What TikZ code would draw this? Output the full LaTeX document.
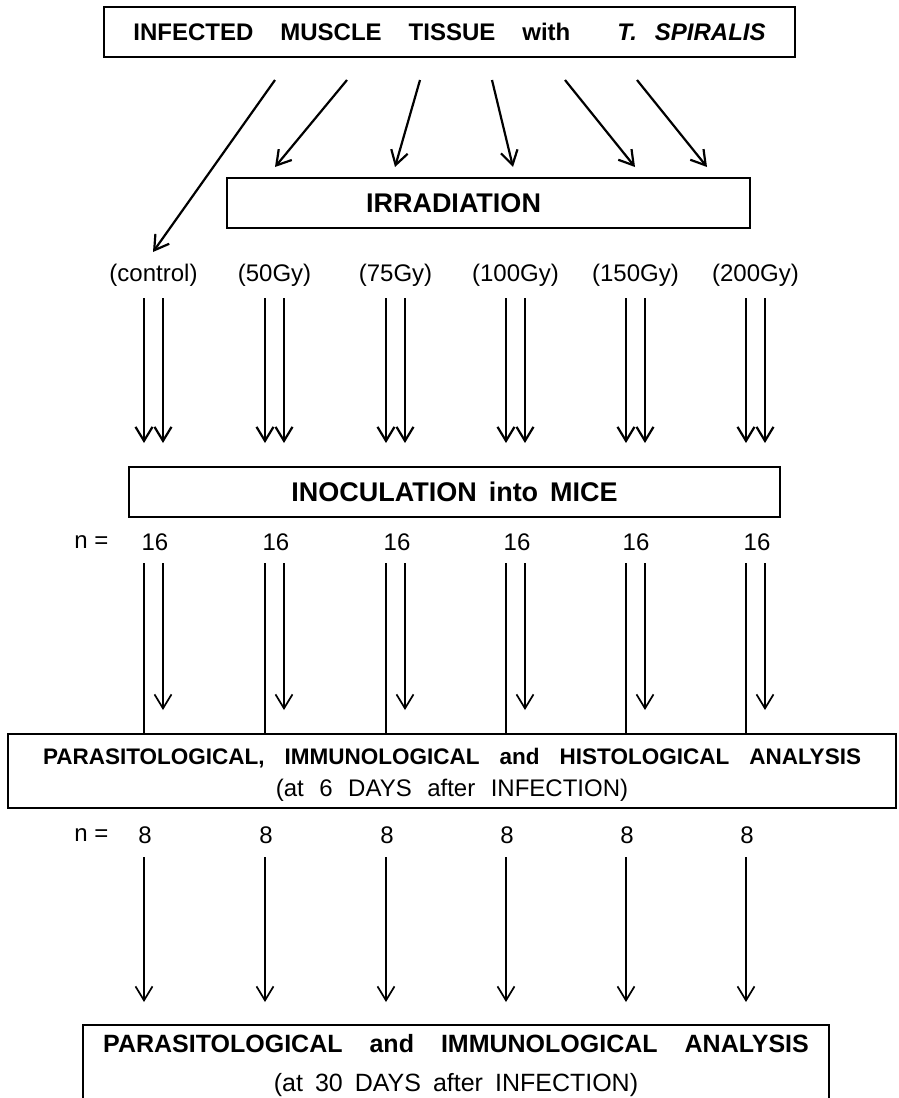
\documentclass[tikz,border=0pt]{standalone}
\usepackage{fontspec}
\setmainfont{Liberation Sans}
\usetikzlibrary{arrows.meta}
\newcommand\wordgap[1]{\spaceskip=#1\relax}
\begin{document}
\begin{tikzpicture}[x=1pt,y=-1pt,
  boxline/.style={draw, line width=1.7pt, inner sep=0pt, align=center},
  lab/.style={inner sep=0pt},
  labfont/.style={font={\fontsize{24}{28}\selectfont}},
  arr/.style={line width=2.2pt, -{Straight Barb[length=14pt,width=17pt]}},
  thinarr/.style={line width=1.7pt, -{Straight Barb[length=14pt,width=17pt]}},
  thinline/.style={line width=1.5pt}
]
\useasboundingbox (0,0) rectangle (898,1098);
\clip (0,0) rectangle (898,1098);

% boxes
\node[boxline, minimum width=691, minimum height=50,
      font={\fontsize{24}{28}\selectfont\bfseries\wordgap{27pt}}]
  (top) at (449.5,32) {INFECTED MUSCLE TISSUE with\hspace{20pt} \textit{T.\hspace{-9pt} SPIRALIS}};
\node[boxline, minimum width=523, minimum height=50,
      font={\fontsize{27}{32}\selectfont\bfseries}]
  (irr) at (488.5,203) {\hspace*{-70pt}IRRADIATION};
\node[boxline, minimum width=651, minimum height=50,
      font={\fontsize{27}{32}\selectfont\bfseries\wordgap{12pt}}]
  (inoc) at (454.5,492) {INOCULATION into MICE};
\node[boxline, minimum width=888, minimum height=74,
      font={\fontsize{24}{32}\selectfont}]
  (ana1) at (452,771)
  {\rule{0pt}{23pt}{\fontsize{22.5}{32}\selectfont\bfseries\wordgap{20pt}PARASITOLOGICAL, IMMUNOLOGICAL and HISTOLOGICAL ANALYSIS}\\
   {\fontsize{24}{32}\selectfont\wordgap{15.5pt}(at 6 DAYS after INFECTION)}};
\node[boxline, minimum width=746, minimum height=75,
      font={\fontsize{25}{39}\selectfont}]
  (ana2) at (456,1062.5)
  {\rule{0pt}{23.3pt}{\fontsize{25}{39}\selectfont\bfseries\wordgap{27pt}PARASITOLOGICAL and IMMUNOLOGICAL ANALYSIS}\\
   {\fontsize{25}{39}\selectfont\wordgap{12pt}(at 30 DAYS after INFECTION)}};

% dose labels
\node[lab, labfont] (l1) at (153.5,275) {(control)};
\node[lab, labfont] (l2) at (274.5,275) {(50Gy)};
\node[lab, labfont] (l3) at (395.5,275) {(75Gy)};
\node[lab, labfont] (l4) at (515.5,275) {(100Gy)};
\node[lab, labfont] (l5) at (635.5,275) {(150Gy)};
\node[lab, labfont] (l6) at (755.5,275) {(200Gy)};

% n labels
\node[lab, labfont] (na) at (91.5,542) {n =};
\node[lab, labfont] (nb) at (91.5,835) {n =};
\foreach \i/\x in {1/155,2/276,3/397,4/517,5/636,6/757}
  \node[lab, labfont] (m\i) at (\x,542) {16};
\foreach \i/\x in {1/145,2/266,3/387,4/507,5/627,6/747}
  \node[lab, labfont] (e\i) at (\x,835) {8};

% arrows from top box
\foreach \i/\sx/\tx/\ty in {1/275/153/252, 2/347/275/167, 3/420/395/167,
                            4/492/513/167, 5/565/635/167, 6/637/707/167}{
  \coordinate (s\i) at (\sx,80);
  \coordinate (t\i) at (\tx,\ty);
  \draw[arr] (s\i) -- (t\i);
}

% double arrows
\foreach \i/\x in {1/144,2/265,3/386,4/506,5/626,6/746}{
  \coordinate (ua\i) at (\x,298);
  \coordinate (ub\i) at (\x+19,298);
  \coordinate (uc\i) at (\x,443);
  \coordinate (ud\i) at (\x+19,443);
  \draw[arr] (ua\i) -- (uc\i);
  \draw[arr] (ub\i) -- (ud\i);
  % lower pair
  \coordinate (la\i) at (\x,563);
  \coordinate (lb\i) at (\x+19,563);
  \coordinate (lc\i) at (\x+19,710);
  \draw[thinline] (la\i) -- (la\i |- ana1.north);
  \draw[thinarr] (lb\i) -- (lc\i);
  % bottom arrows
  \coordinate (ba\i) at (\x,857);
  \coordinate (bb\i) at (\x,1002);
  \draw[thinarr] (ba\i) -- (bb\i);
}
\end{tikzpicture}
\end{document}
